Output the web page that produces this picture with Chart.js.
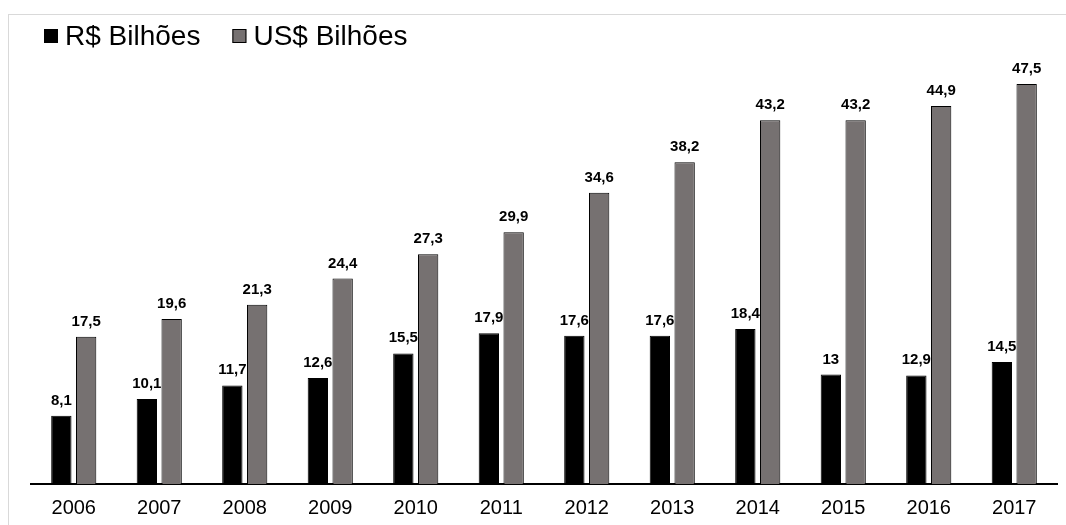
<!DOCTYPE html>
<html lang="pt">
<head>
    <meta charset="UTF-8">
    <title>Bilhões 2006-2017</title>
    <script src="https://cdn.jsdelivr.net/npm/chart.js"></script>
    <style>
        body { margin: 0; background: #fff; overflow: hidden; }
        #box {
            position: absolute;
            left: 8px;
            top: 14px;
            width: 1057px;
            height: 517px;
            border-top: 1px solid #d9d9d9;
            border-left: 1px solid #d9d9d9;
        }
    </style>
</head>
<body>
    <div id="box">
        <canvas id="graph"></canvas>
    </div>
<script>
    const anos = ['2006', '2007', '2008', '2009', '2010', '2011', '2012', '2013', '2014', '2015', '2016', '2017'];
    const reais = [8.1, 10.1, 11.7, 12.6, 15.5, 17.9, 17.6, 17.6, 18.4, 13, 12.9, 14.5];
    const dolares = [17.5, 19.6, 21.3, 24.4, 27.3, 29.9, 34.6, 38.2, 43.2, 43.2, 44.9, 47.5];

    const fonte = 'Liberation Sans, Arial, sans-serif';

    // valores em cima das barras (antes das barras, a barra cinza cobre o rotulo preto)
    const rotulos = {
        id: 'rotulos',
        beforeDatasetsDraw(chart) {
            const ctx = chart.ctx;
            ctx.save();
            ctx.font = 'bold 15px ' + fonte;
            ctx.fillStyle = '#000';
            ctx.textAlign = 'center';
            ctx.textBaseline = 'alphabetic';
            chart.data.datasets.forEach((ds, i) => {
                chart.getDatasetMeta(i).data.forEach((bar, j) => {
                    const txt = String(ds.data[j]).replace('.', ',');
                    ctx.fillText(txt, bar.x, bar.y - 11);
                });
            });
            ctx.restore();
        }
    };

    // legenda desenhada na mao
    const legenda = {
        id: 'legenda',
        afterDraw(chart) {
            const ctx = chart.ctx;
            ctx.save();
            ctx.font = '28px ' + fonte;
            ctx.textBaseline = 'alphabetic';
            let x = 35;
            chart.data.datasets.forEach(ds => {
                ctx.fillStyle = ds.backgroundColor;
                ctx.fillRect(x, 14, 14, 14);
                ctx.strokeStyle = '#000';
                ctx.lineWidth = 1;
                ctx.strokeRect(x + 0.5, 14.5, 13, 13);
                ctx.fillStyle = '#000';
                ctx.fillText(ds.label, x + 21, 30);
                x += 21 + ctx.measureText(ds.label).width + 32;
            });
            ctx.restore();
        }
    };

    const ctx = document.getElementById('graph');

    new Chart(ctx, {
        type: 'bar',
        data: {
            labels: anos,
            datasets: [{
                label: 'R$ Bilhões',
                data: reais,
                backgroundColor: '#000000',
                borderColor: '#000000',
                borderWidth: 1
            }, {
                label: 'US$ Bilhões',
                data: dolares,
                backgroundColor: '#767171',
                borderColor: '#000000',
                borderWidth: 1
            }]
        },
        options: {
            responsive: true,
            maintainAspectRatio: false,
            animation: false,
            categoryPercentage: 0.58,
            barPercentage: 0.82,
            layout: {
                padding: { left: 22, right: 9, top: 48, bottom: 0 }
            },
            plugins: {
                legend: { display: false },
                tooltip: { enabled: false }
            },
            scales: {
                x: {
                    grid: { display: false, drawTicks: false },
                    border: { display: true, color: '#000', width: 2 },
                    ticks: {
                        color: '#000',
                        padding: 12,
                        font: { family: fonte, size: 20 }
                    }
                },
                y: {
                    display: false,
                    min: 0,
                    max: 50
                }
            }
        },
        plugins: [rotulos, legenda]
    });
</script>
</body>
</html>
